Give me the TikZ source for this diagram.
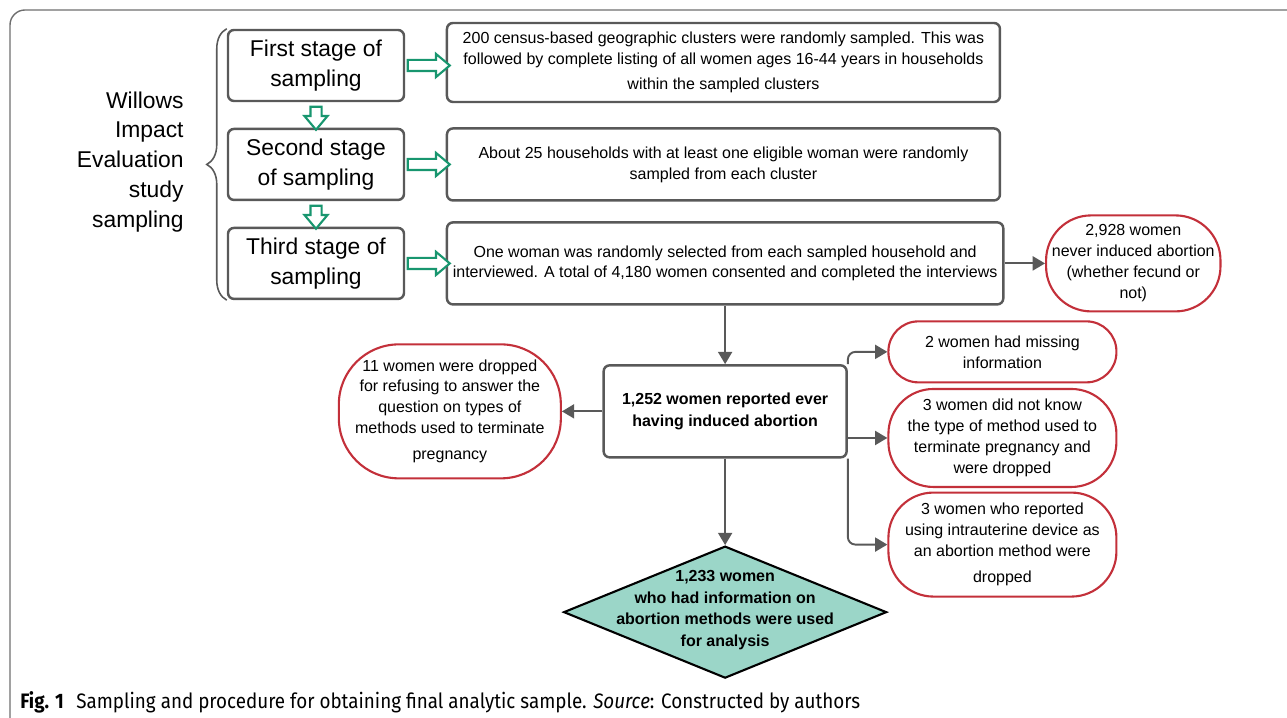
\documentclass[tikz,border=0pt]{standalone}
\usepackage{fontspec}
\setmainfont{Liberation Sans}
\newfontfamily\capfont[FakeStretch=0.9]{Fira Sans}
\usepackage{tikz}
\usetikzlibrary{calc}
\usetikzlibrary{positioning}
\usetikzlibrary{shapes.geometric}
\usetikzlibrary{shapes.arrows}
\usetikzlibrary{arrows.meta}
\usetikzlibrary{decorations.pathreplacing}

\definecolor{boxgray}{HTML}{595959}
\definecolor{framegray}{HTML}{6E6E6E}
\definecolor{dropred}{HTML}{C3303A}
\definecolor{stagegreen}{HTML}{18966F}
\definecolor{finalteal}{HTML}{9BD6C8}

\begin{document}
\begin{tikzpicture}[>={Triangle[length=7pt,width=8pt]},
		stagebox/.style={rectangle, rounded corners=1.2mm, draw=boxgray, line width=1.4pt, minimum width=3.52cm, minimum height=1.42cm, align=center, font=\fontsize{13}{17}\selectfont},
		infobox/.style={rectangle, rounded corners=1.2mm, draw=boxgray, line width=1.4pt, minimum width=11.06cm, align=center, font=\fontsize{9.1}{11.9}\selectfont},
		dropbox/.style={rectangle, rounded corners=9mm, draw=dropred, line width=1.2pt, align=center, font=\fontsize{9.1}{11.9}\selectfont},
		hollowarrow/.style={single arrow, draw=stagegreen, line width=1.2pt, fill=white, inner sep=0.09cm, single arrow head extend=0.12cm, single arrow tip angle=80},
		flowline/.style={->, draw=boxgray, line width=1.1pt}]
		\useasboundingbox (0,0) rectangle (25.74,14.36);
		%frame
		\draw [framegray, line width=0.8pt, rounded corners=3mm] (0.2,0) -- (0.2,14.16) -- (25.74,14.16);

		%elements
		\node [stagebox] at (6.32,13.05) (stage1) {First stage of\\sampling};
		\node [stagebox, below=0.51cm of stage1] (stage2) {Second stage\\of sampling};
		\node [stagebox, below=0.51cm of stage2] (stage3) {Third stage of\\sampling};

		\node [infobox, minimum height=1.58cm, anchor=west] at ($(stage1.east)+(0.81cm,0.06cm)$) (info1) {200 census-based geographic clusters were randomly sampled. This was\\followed by complete listing of all women ages 16-44 years in households\\[2pt]within the sampled clusters};
		\node [infobox, minimum height=1.44cm, anchor=west] at ($(stage2.east)+(0.81cm,0cm)$) (info2) {About 25 households with at least one eligible woman were randomly\\sampled from each cluster};
		\node [infobox, minimum height=1.64cm, anchor=west] at ($(stage3.east)+(0.81cm,0cm)$) (info3) {One woman was randomly selected from each sampled household and\\interviewed. A total of 4,180 women consented and completed the interviews};

		\node [dropbox, minimum width=3.48cm, minimum height=1.92cm, anchor=west] at ($(info3.east)+(0.81cm,0cm)$) (never) {2,928 women\\never induced abortion\\(whether fecund or\\not)};

		\node [infobox, minimum width=4.86cm, minimum height=1.84cm, font=\bfseries\fontsize{9.1}{12.3}\selectfont, anchor=north] at ($(info3.south)+(0cm,-1.17cm)$) (ctr) {1,252 women reported ever\\having induced abortion};

		\node [dropbox, minimum width=4.44cm, minimum height=2.68cm, rounded corners=12mm, anchor=east] at ($(ctr.west)+(-0.81cm,0cm)$) (refuse) {11 women were dropped\\for refusing to answer the\\question on types of\\methods used to terminate\\[3pt]pregnancy};

		\node [dropbox, minimum width=4.56cm, minimum height=1.22cm, rounded corners=6mm, anchor=west] at ($(ctr.east)+(0.79cm,1.19cm)$) (drop1) {2 women had missing\\information};
		\node [dropbox, minimum width=4.56cm, minimum height=1.96cm, below=0.09cm of drop1] (drop2) {3 women did not know\\the type of method used to\\terminate pregnancy and\\were dropped};
		\node [dropbox, minimum width=4.56cm, minimum height=2.08cm, below=0.07cm of drop2] (drop3) {3 women who reported\\using intrauterine device as\\an abortion method were\\[3pt]dropped};

		\node [diamond, draw=black, line width=1.2pt, fill=finalteal, inner sep=0pt, minimum width=6.46cm, minimum height=2.64cm, below=1.73cm of ctr] (final) {};
		\node [align=center, font=\bfseries\fontsize{9.1}{12.3}\selectfont] at ($(final.center)+(0cm,0.04cm)$) (finaltext) {1,233 women\\who had information on\\abortion methods were used\\for analysis};

		%label
		\draw [decorate, decoration={brace, amplitude=0.4cm}, draw=boxgray, line width=0.9pt] (stage3.south west) -- (stage1.north west);
		\node [anchor=east, align=right, font=\fontsize{13}{17}\selectfont] at ($(stage2.west)+(-0.74cm,0.05cm)$) (studylabel) {Willows\\Impact\\Evaluation\\study\\sampling};

		%arrows
		\node [hollowarrow, minimum height=0.84cm] at ($(stage1.east)!0.5!(info1.west |- stage1.east)$) (go1) {};
		\node [hollowarrow, minimum height=0.84cm] at ($(stage2.east)!0.5!(info2.west |- stage2.east)$) (go2) {};
		\node [hollowarrow, minimum height=0.84cm] at ($(stage3.east)!0.5!(info3.west |- stage3.east)$) (go3) {};
		\node [hollowarrow, minimum height=0.46cm, rotate=-90] at ($(stage1.south)!0.5!(stage2.north)$) (down1) {};
		\node [hollowarrow, minimum height=0.46cm, rotate=-90] at ($(stage2.south)!0.5!(stage3.north)$) (down2) {};

		\draw [flowline] (info3.east) -- (never.west);
		\draw [flowline] (info3.south) -- (ctr.north);
		\draw [flowline] (ctr.west) -- (refuse.east);
		\draw [flowline] (ctr.south) -- (final.north);
		\draw [flowline, rounded corners=1.5mm] (ctr.north east) |- (drop1.west);
		\draw [flowline] (ctr.east |- drop2.west) -- (drop2.west);
		\draw [flowline, rounded corners=1.5mm] (ctr.south east) |- (drop3.west);

		%caption
		\node [anchor=west, inner sep=0pt, font=\capfont\fontsize{11.9}{14}\selectfont] at (0.4,0.32) (caption) {\textbf{Fig. 1}\hspace{0.25cm}Sampling and procedure for obtaining final analytic sample. \textit{Source}: Constructed by authors};
\end{tikzpicture}
\end{document}
